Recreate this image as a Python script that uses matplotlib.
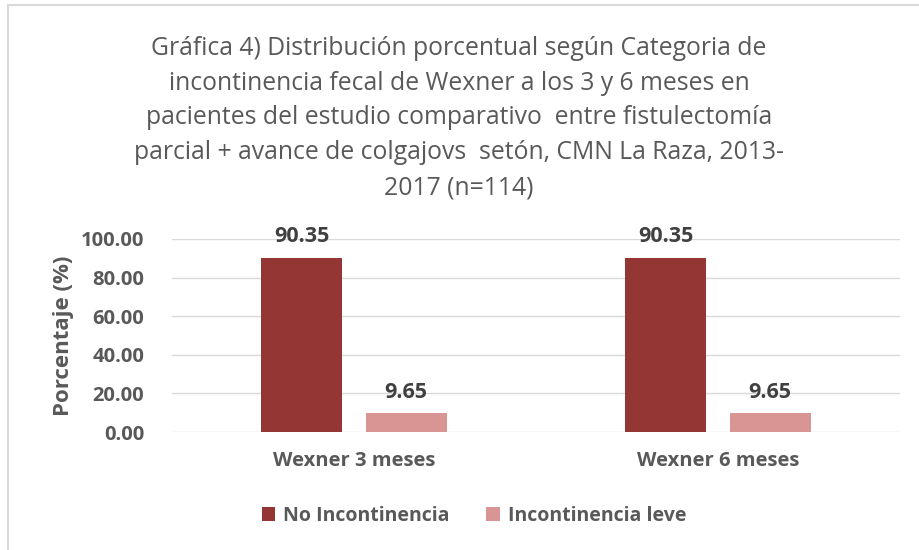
import matplotlib
matplotlib.use("Agg")
import matplotlib.pyplot as plt
from matplotlib.patches import Rectangle
import numpy as np

categories = ["Wexner 3 meses", "Wexner 6 meses"]
series_names = ["No Incontinencia", "Incontinencia leve"]
no_incont = [90.35, 90.35]
leve = [9.65, 9.65]
yticks = [0, 20, 40, 60, 80, 100]

colors = ["#943634", "#D99594"]
gray = "#595959"

plt.rcParams['font.family'] = ['Open Sans', 'DejaVu Sans']

fig = plt.figure(figsize=(9.19, 5.5), dpi=100)
fig.patches.append(Rectangle((8/919, -0.01), 1.0, 1 - 5/550 + 0.01, transform=fig.transFigure,
                             fill=False, edgecolor="#D9D9D9", linewidth=1.5))
ax = fig.add_axes([172/919, 1-432/550, 728/919, (432-239)/550])

x = np.arange(len(categories))
w = 0.2225
off = 0.143
b1 = ax.bar(x - off, no_incont, w, color=colors[0], label=series_names[0], zorder=3)
b2 = ax.bar(x + off, leve, w, color=colors[1], label=series_names[1], zorder=3)
for bars, vals in ((b1, no_incont), (b2, leve)):
    for r, v in zip(bars, vals):
        ax.text(r.get_x() + r.get_width()/2, v + 5.5, f"{v:.2f}", ha="center", va="bottom",
                fontsize=15.5, fontweight="bold", color="#404040")

ax.set_xlim(-0.5, 1.5)
ax.set_ylim(0, 100)
ax.set_yticks(yticks)
ax.set_yticklabels([f"{t:.2f}" for t in yticks], fontsize=14.5, fontweight="bold", color=gray)
ax.set_xticks(x)
ax.set_xticklabels(categories, fontsize=14.5, fontweight="bold", color=gray)
ax.tick_params(axis="both", length=0)
ax.tick_params(axis="x", pad=14)
ax.tick_params(axis="y", pad=20)
ax.grid(axis="y", color="#D9D9D9", linewidth=1, zorder=0)
ax.set_axisbelow(True)
for s in ax.spines.values():
    s.set_visible(False)
ax.set_ylabel("Porcentaje (%)", fontsize=16, fontweight="bold", color=gray)
ax.yaxis.set_label_coords(-0.135, 0.5)

title = ("Gráfica 4) Distribución porcentual según Categoria de\n"
         "incontinencia fecal de Wexner a los 3 y 6 meses en\n"
         "pacientes del estudio comparativo  entre fistulectomía\n"
         "parcial + avance de colgajovs  setón, CMN La Raza, 2013-\n"
         "2017 (n=114)")
fig.text(459/919, 1-118/550, title, ha="center", va="center", fontsize=17.8, color=gray,
         linespacing=1.52)

leg = fig.legend(handles=[b1, b2], labels=series_names, loc="center", bbox_to_anchor=(474/919, 1-516/550),
                 ncol=2, frameon=False, fontsize=14, handlelength=0.7, handleheight=0.7,
                 columnspacing=1.9, handletextpad=0.4)
for t in leg.get_texts():
    t.set_color(gray)
    t.set_fontweight("bold")

fig.savefig("out.png", dpi=100)
